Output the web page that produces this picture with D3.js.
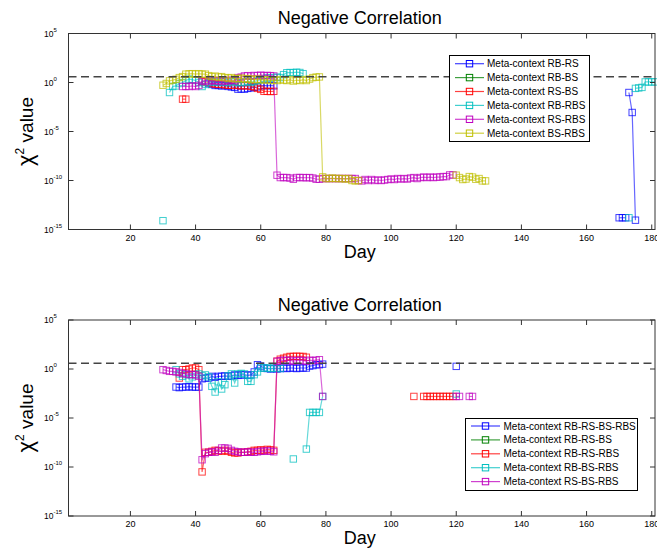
<!DOCTYPE html>
<html><head><meta charset="utf-8">
<script src="https://cdn.jsdelivr.net/npm/d3@7"></script>
<style>
body{margin:0;background:#fff}
svg{display:block}
text{font-family:"Liberation Sans",Arial,Helvetica,sans-serif;fill:#000}
</style>
</head><body>
<svg id="chart" width="657" height="556"></svg>
<script>
// ---------- data (values are log10 of the chi-square statistic) ----------
const xTicks = [20, 40, 60, 80, 100, 120, 140, 160, 180];
const yTickExps = [5, 0, -5, -10, -15];
const criticalValue = 3.84;   // dashed line
const titleText = "Negative Correlation";
const xLabel = "Day";

// each series = list of segments [startDay, [log10 values for consecutive days]]
const topRB_RS = [
  [44, [-0.1,-0.2,-0.3,-0.3,-0.35,-0.3,-0.4,-0.45,-0.5,-0.68,-0.65,-0.68,-0.6,-0.55,-0.5,-0.45,-0.34,-0.3,-0.34,-0.3,-0.34]],
  [170, [-13.8,-13.8,-13.8]],
  [173, [-1.02,-3.06,-14.05]]
];
const topRB_BS = [];
const topRS_BS = [
  [36, [-1.7,-1.7]],
  [42, [0.1,0.05,0.0,-0.1,-0.17,-0.2,-0.17,-0.25,-0.28,-0.3,-0.25,-0.3,-0.35,-0.3,-0.35,-0.4,-0.45,-0.6,-0.7,-0.9,-0.9,-0.92,-0.9]]
];
const topRB_RBS = [
  [30, [-14.1]],
  [32, [-1.02,-0.41,-0.35,-0.1,0.0,0.2,0.34,0.3,0.2,0.0,-0.41,-0.2,0.0,0.05,0.1,0.0,0.1,0.05,0.0,0.1,0.05,0.0,0.0,0.05,0.1,0.0,0.1,0.2,0.3,0.4,0.5,0.45,0.5,0.55,0.5,0.8,1.0,1.02,1.0,1.05,1.02,0.9]],
  [173, [-13.8]],
  [175, [-0.6,-0.55,-0.5,0.06,0.06,0.06,0.06]]
];
const topRS_RBS = [
  [36, [-0.41,-0.4,-0.41,-0.35,-0.41,-0.3,0.15,0.2,0.1,0.23,0.15,0.2,0.1,0.2,0.15,0.25,0.2,0.5,0.55,0.67,0.7,0.65,0.72,0.7,0.75,0.7,0.72,0.7,0.67,
        -9.46,-9.7,-9.7,-9.7,-9.75,-9.87,-9.7,-9.7,-9.7,-9.72,-9.7,-9.75,-9.87,-9.87,
        -9.8,-9.8,-9.8,-9.8,-9.8,-9.8,-9.8,-9.8,-9.8,-9.8,-9.8,
        -10.0,-10.04,-9.9,-10.0,-9.9,-10.0,-9.95,-10.0,-9.95,-9.9,-9.85,-9.9,-9.8,-9.85,-9.8,-9.85,-9.75,-9.7,-9.8,-9.7,-9.65,-9.7,-9.65,-9.7,-9.65,-9.65,-9.6,-9.6,-9.43,-9.43]]
];
const topBS_RBS = [
  [30, [-0.28,-0.1,0.17,0.25,0.33,0.5,0.6,0.85,0.88,0.9,0.85,0.9,0.85,0.85,0.7,0.6,0.65,0.55,0.6,0.5,0.45,0.5,0.4,0.4,0.45,0.35,0.4,0.35,0.3,0.35,0.3,0.25,0.3,0.2,0.25,0.2,0.3,0.25,0.2,0.3,0.15,0.25,0.2,0.3,0.2,0.35,0.5,0.55,0.57,
        -9.63,-9.8,-9.8,-9.75,-9.8,-9.8,-9.8,-9.85,-9.8,-10.0,-10.04,-10.0]],
  [120, [-9.46,-9.7,-9.9,-9.85,-9.6,-9.65,-9.87,-9.8,-10.04,-10.04]]
];

const botRB_RS_BS_RBS = [
  [34, [-1.84,-1.9,-1.84,-1.84,-1.8,-1.84,-1.84,-1.84,-1.0,-0.92,-0.92,-0.75,-0.85,-0.75,-0.75,-0.7,-0.75,-0.7,-0.6,-0.65,-0.6,-0.6,-0.65,-0.6,-0.3,0.44,0.3,0.1,0.05,0.0,0.05,0.0,0.05,0.1,0.05,0.1,0.1,0.05,0.1,0.1,0.1,0.3,0.35,0.44,0.44,0.5]],
  [120, [0.27]]
];
const botRB_RS_BS = [];
const botRB_RS_RBS = [
  [35, [-0.92,-0.07,-0.07,0.0,0.1,0.1,-0.07,-10.5,-8.5,
        -8.5,-8.4,-8.3,-8.35,-8.4,-8.3,-8.4,-8.5,-8.57,-8.57,-8.5,-8.5,-8.45,-8.4,-8.3,-8.3,-8.25,-8.3,-8.2,-8.25,-8.3,
        0.8,1.0,1.1,1.2,1.28,1.28,1.3,1.28,1.28,1.2]],
  [107, [-2.8]],
  [110, [-2.8,-2.8,-2.8,-2.8,-2.8,-2.8,-2.8,-2.8,-2.8,-2.8]]
];
const botRB_BS_RBS = [
  [34, [-0.07,-0.5,-0.75,-0.58,-1.0,-0.8,-0.6,-0.5,-0.7,-0.6,-0.8,-1.77,-2.35,-1.3,-2.04,-1.6,-0.7,-0.5,-1.43,-0.5,-0.45,-0.5,-1.26,-1.26,-0.58,-0.3,0.1,0.1,0.1,0.05,0.1,0.1,0.05]],
  [70, [-9.18]],
  [74, [-8.17,-4.43,-4.43,-4.43,-4.43,-2.8]],
  [120, [-2.55]]
];
const botRS_BS_RBS = [
  [30, [-0.07,-0.15,-0.24,-0.24,-0.3,-0.35,-0.45,-0.5,-0.58,-0.55,-0.6,-0.75,-9.26,-8.64,
        -8.5,-8.45,-8.5,-8.3,-8.06,-8.06,-8.1,-8.3,-8.4,-8.45,-8.5,-8.5,-8.45,-8.5,-8.5,-8.45,-8.4,-8.4,-8.35,-8.4,-8.45,
        0.78,0.85,0.9,0.85,0.9,0.8,0.85,0.9,0.85,0.8,0.9,0.85,0.9,0.95,-2.8]],
  [120, [-2.8,-2.8]],
  [124, [-2.8,-2.8]]
];

const topNames = ["Meta-context RB-RS","Meta-context RB-BS","Meta-context RS-BS","Meta-context RB-RBS","Meta-context RS-RBS","Meta-context BS-RBS"];
const botNames = ["Meta-context RB-RS-BS-RBS","Meta-context RB-RS-BS","Meta-context RB-RS-RBS","Meta-context RB-BS-RBS","Meta-context RS-BS-RBS"];
const topSeries = [topRB_RS, topRB_BS, topRS_BS, topRB_RBS, topRS_RBS, topBS_RBS];
const botSeries = [botRB_RS_BS_RBS, botRB_RS_BS, botRB_RS_RBS, botRB_BS_RBS, botRS_BS_RBS];
const colors = ["#0000ff","#008000","#ff0000","#00bfbf","#bf00bf","#bfbf00"];

// ---------- drawing ----------
const svg = d3.select("#chart");
const L = 68.5, R = 655;
const x = d3.scaleLinear().domain([1, 181]).range([L, R]);

function toPoints(segs){
  // returns array of arrays of {d, v}
  return segs.map(([start, vals]) => vals.map((lv, i) => ({d: start + i, v: Math.pow(10, lv)})));
}

function panel(top, bottom, series, names, legend){
  const y = d3.scaleLog().domain([1e-15, 1e5]).range([bottom, top]);
  const g = svg.append("g");

  // title
  g.append("text").attr("x", (L + R) / 2 - 2).attr("y", top - 9.5)
    .attr("text-anchor", "middle").attr("font-size", 18).text(titleText);

  // data
  const line = d3.line().x(p => x(p.d)).y(p => y(p.v));
  series.forEach((segs, si) => {
    const sg = g.append("g");
    toPoints(segs).forEach(pts => {
      if (pts.length > 1) {
        sg.append("path").attr("d", line(pts)).attr("fill", "none")
          .attr("stroke", colors[si]).attr("stroke-opacity", 0.6).attr("stroke-width", 1.2);
      }
      sg.selectAll(null).data(pts).enter().append("rect")
        .attr("x", p => x(p.d) - 3.2).attr("y", p => y(p.v) - 3.2)
        .attr("width", 6.4).attr("height", 6.4)
        .attr("fill", "none").attr("stroke", colors[si]).attr("stroke-opacity", 0.75).attr("stroke-width", 1);
    });
  });

  // dashed critical line
  g.append("line").attr("x1", L).attr("x2", R)
    .attr("y1", y(criticalValue)).attr("y2", y(criticalValue))
    .attr("stroke", "#444").attr("stroke-width", 1.3).attr("stroke-dasharray", "8,4.5");

  // box
  g.append("rect").attr("x", L).attr("y", top).attr("width", R - L).attr("height", bottom - top)
    .attr("fill", "none").attr("stroke", "#333").attr("stroke-width", 1);

  // x ticks (inner, top and bottom)
  xTicks.forEach(t => {
    const xx = x(t);
    g.append("line").attr("x1", xx).attr("x2", xx).attr("y1", bottom).attr("y2", bottom - 5).attr("stroke", "#333");
    g.append("line").attr("x1", xx).attr("x2", xx).attr("y1", top).attr("y2", top + 5).attr("stroke", "#333");
    g.append("text").attr("x", xx).attr("y", bottom + 11).attr("text-anchor", "middle")
      .attr("font-size", 9).text(t);
  });
  // y ticks (inner, left and right)
  yTickExps.forEach(e => {
    const yy = y(Math.pow(10, e));
    g.append("line").attr("x1", L).attr("x2", L + 5).attr("y1", yy).attr("y2", yy).attr("stroke", "#333");
    g.append("line").attr("x1", R).attr("x2", R - 5).attr("y1", yy).attr("y2", yy).attr("stroke", "#333");
    const tx = g.append("text").attr("x", 44).attr("y", yy + 3).attr("font-size", 8.5);
    tx.append("tspan").text("10");
    tx.append("tspan").attr("dy", -5).attr("font-size", 6).text(e);
  });

  // axis labels
  g.append("text").attr("x", (L + R) / 2 - 2).attr("y", bottom + 28)
    .attr("text-anchor", "middle").attr("font-size", 18).text(xLabel);
  const yl = g.append("text").attr("transform", `translate(33,${(top + bottom) / 2}) rotate(-90)`)
    .attr("text-anchor", "middle").attr("font-size", 19);
  yl.append("tspan").attr("font-size", 22).text("χ");
  yl.append("tspan").attr("dy", -9).attr("font-size", 12).text("2");
  yl.append("tspan").attr("dy", 9).text(" value");

  // legend
  const lg = g.append("g");
  lg.append("rect").attr("x", legend.x0).attr("y", legend.y0).attr("width", legend.x1 - legend.x0)
    .attr("height", legend.y1 - legend.y0).attr("fill", "#fff").attr("stroke", "#000").attr("stroke-width", 1);
  names.forEach((n, i) => {
    const yy = legend.row0 + i * legend.step;
    lg.append("line").attr("x1", legend.l0).attr("x2", legend.l1).attr("y1", yy).attr("y2", yy)
      .attr("stroke", colors[i]).attr("stroke-opacity", 0.75).attr("stroke-width", 1.2);
    const mx = (legend.l0 + legend.l1) / 2;
    lg.append("rect").attr("x", mx - 3.2).attr("y", yy - 3.2).attr("width", 6.4).attr("height", 6.4)
      .attr("fill", "none").attr("stroke", colors[i]).attr("stroke-width", 1);
    lg.append("text").attr("x", legend.tx).attr("y", yy + 3.5).attr("font-size", 10).text(n);
  });
}

panel(33.5, 229.5, topSeries, topNames,
  {x0: 449.5, x1: 589.5, y0: 55.5, y1: 141.5, row0: 63.7, step: 13.9, l0: 455, l1: 484, tx: 487});
panel(320, 516, botSeries, botNames,
  {x0: 465.5, x1: 637.5, y0: 418.5, y1: 490.5, row0: 426, step: 13.9, l0: 471, l1: 500, tx: 503.5});
</script>
</body></html>
